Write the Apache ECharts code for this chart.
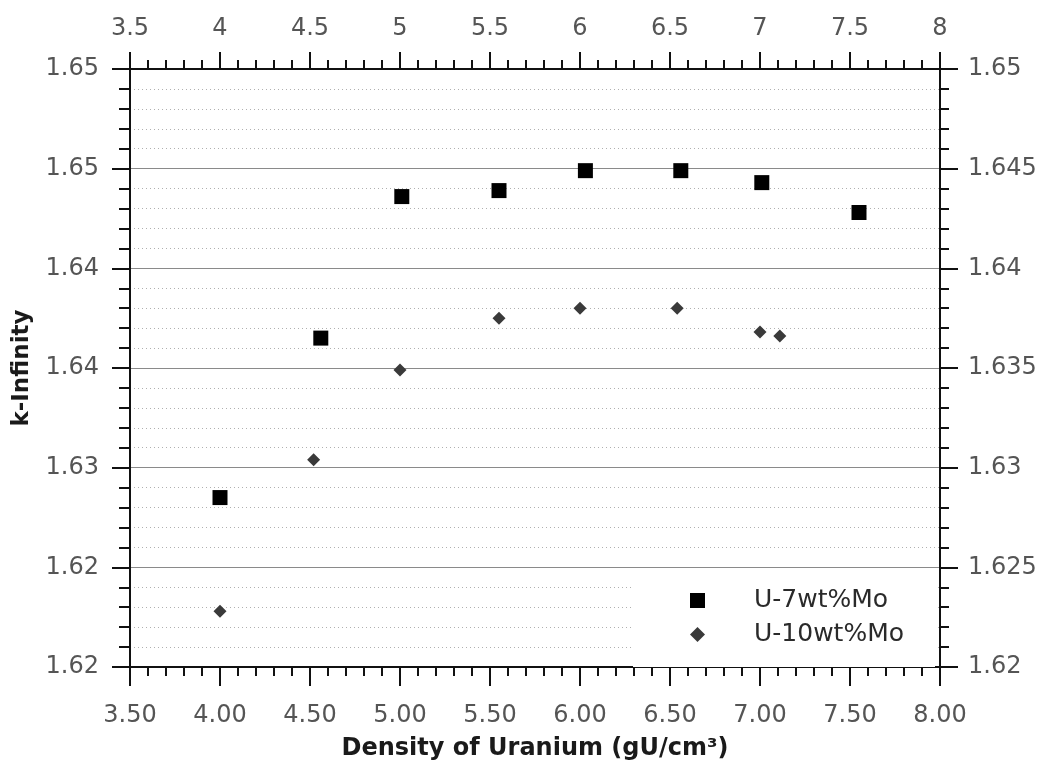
<!DOCTYPE html>
<html>
<head>
    <meta charset="UTF-8">
    <title>k-Infinity vs density</title>
    <script src="https://cdn.jsdelivr.net/npm/echarts@6/dist/echarts.min.js"></script>
    <style>
        body, html {
            margin: 0;
            padding: 0;
            background: #fff;
        }
        #chart {
            width: 1054px;
            height: 771px;
        }
    </style>
</head>
<body>
<div id="chart"></div>
<script>
    // data
    var u7Density = [4.00, 4.56, 5.01, 5.55, 6.03, 6.56, 7.01, 7.55];
    var u7Kinf = [1.6285, 1.6365, 1.6436, 1.6439, 1.6449, 1.6449, 1.6443, 1.6428];
    var u10Density = [4.00, 4.52, 5.00, 5.55, 6.00, 6.54, 7.00, 7.11];
    var u10Kinf = [1.6228, 1.6304, 1.6349, 1.6375, 1.6380, 1.6380, 1.6368, 1.6366];

    var bottomLabels = ['3.50', '4.00', '4.50', '5.00', '5.50', '6.00', '6.50', '7.00', '7.50', '8.00'];
    var topLabels = ['3.5', '4', '4.5', '5', '5.5', '6', '6.5', '7', '7.5', '8'];
    var leftLabels = ['1.62', '1.62', '1.63', '1.64', '1.64', '1.65', '1.65'];
    var rightLabels = ['1.62', '1.625', '1.63', '1.635', '1.64', '1.645', '1.65'];

    function pairs(xs, ys) {
        var out = [];
        for (var i = 0; i < xs.length; i++) out.push([xs[i], ys[i]]);
        return out;
    }

    var font = 'DejaVu Sans';
    var lineCol = '#111';

    function xAxis(pos, labels, margin, tickLen) {
        return {
            type: 'value', position: pos, min: 3.5, max: 8, interval: 0.5,
            axisLine: {show: true, onZero: false, lineStyle: {color: lineCol, width: 2}},
            axisTick: {show: true, inside: false, length: tickLen, lineStyle: {color: lineCol, width: 2}},
            minorTick: {show: true, splitNumber: 5, length: 9, lineStyle: {color: lineCol, width: 2}},
            splitLine: {show: false},
            axisLabel: {
                margin: margin, fontFamily: font, fontSize: 24, color: '#555',
                formatter: function (v) { return labels[Math.round((v - 3.5) / 0.5)]; }
            }
        };
    }

    function yAxis(pos, labels, margin, minorLen, grid) {
        return {
            type: 'value', position: pos, min: 1.62, max: 1.65, interval: 0.005,
            axisLine: {show: true, onZero: false, lineStyle: {color: lineCol, width: 2}},
            axisTick: {show: true, inside: false, length: 18, lineStyle: {color: lineCol, width: 2}},
            minorTick: {show: true, splitNumber: 5, length: minorLen, lineStyle: {color: lineCol, width: 2}},
            splitLine: {show: grid, lineStyle: {color: '#8a8a8a', width: 1}},
            minorSplitLine: {show: grid, lineStyle: {color: '#b0b0b0', width: 1, type: [1, 3]}},
            axisLabel: {
                margin: margin, fontFamily: font, fontSize: 24, color: '#555',
                formatter: function (v) { return labels[Math.round((v - 1.62) / 0.005)]; }
            }
        };
    }

    var chart = echarts.init(document.getElementById('chart'), null, {renderer: 'canvas'});

    var xBottom = xAxis('bottom', bottomLabels, 37, 19);
    xBottom.name = 'Density of Uranium (gU/cm\u00b3)';
    xBottom.nameLocation = 'middle';
    xBottom.nameGap = 70;
    xBottom.nameTextStyle = {fontFamily: font, fontSize: 24, fontWeight: 'bold', color: '#1a1a1a'};

    var yLeft = yAxis('left', leftLabels, 31, 11, true);
    yLeft.name = 'k-Infinity';
    yLeft.nameLocation = 'middle';
    yLeft.nameGap = 96;
    yLeft.nameTextStyle = {fontFamily: font, fontSize: 23, fontWeight: 'bold', color: '#1a1a1a'};

    var option = {
        backgroundColor: '#fff',
        animation: false,
        grid: {left: 130, right: 114, top: 69, bottom: 104},
        xAxis: [xBottom, xAxis('top', topLabels, 28, 17)],
        yAxis: [yLeft, yAxis('right', rightLabels, 28, 9, false)],
        legend: {
            orient: 'vertical',
            left: 633, top: 570,
            backgroundColor: '#fff',
            padding: [18, 31, 20, 57],
            itemWidth: 15, itemHeight: 15, itemGap: 9,
            textStyle: {fontFamily: font, fontSize: 25, lineHeight: 25, color: '#2a2a2a', padding: [0, 0, 0, 44]},
            data: [
                {name: 'U-7wt%Mo', icon: 'rect'},
                {name: 'U-10wt%Mo', icon: 'diamond'}
            ]
        },
        series: [
            {
                name: 'U-7wt%Mo', type: 'scatter', symbol: 'rect', symbolSize: 15,
                itemStyle: {color: '#000', opacity: 1},
                data: pairs(u7Density, u7Kinf), z: 5
            },
            {
                name: 'U-10wt%Mo', type: 'scatter', symbol: 'diamond', symbolSize: 13,
                itemStyle: {color: '#3a3a3a', opacity: 1},
                data: pairs(u10Density, u10Kinf), z: 5
            }
        ]
    };
    chart.setOption(option);
</script>
</body>
</html>
